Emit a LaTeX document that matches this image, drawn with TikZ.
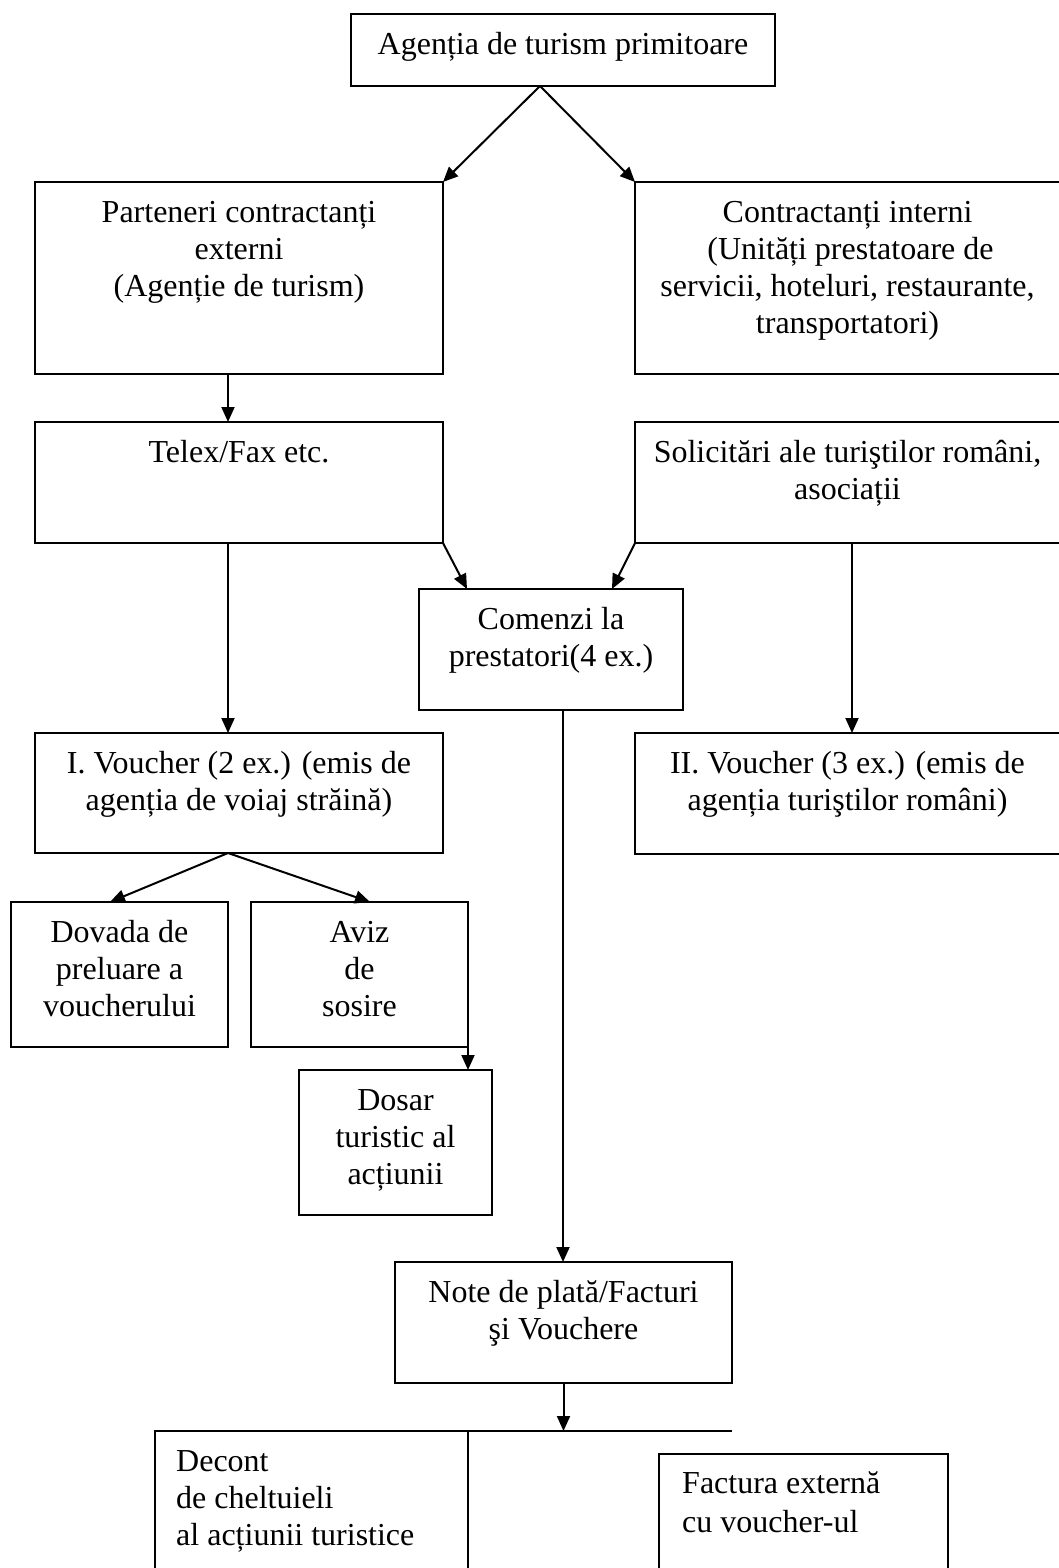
\documentclass[tikz,border=0pt]{standalone}
\usepackage{fontspec}
\setmainfont{Liberation Serif}
\usetikzlibrary{arrows.meta,calc}
\begin{document}
\begin{tikzpicture}[x=1pt,y=-1pt,
  box/.style={draw, line width=1.1pt, rectangle, inner sep=0pt, outer sep=0pt, anchor=north west},
  txt/.style={font=\fontsize{32}{37}\selectfont, align=center, inner sep=0pt, anchor=north},
  ltxt/.style={font=\fontsize{32}{37}\selectfont, align=left, inner sep=0pt, anchor=north west},
  arr/.style={line width=2pt, -{Triangle[length=15pt,width=13pt]}},
  rule/.style={line width=1.1pt},
]
\useasboundingbox (0,0) rectangle (1058,1568);
\fill[white] (0,0) rectangle (1058,1568);

% frames
\node[box, minimum width=424pt, minimum height=72pt]  (top)       at (351,14)   {};
\node[box, minimum width=408pt, minimum height=192pt] (parteneri) at (35,182)   {};
\node[box, minimum width=425pt, minimum height=192pt] (contr)     at (635,182)  {};
\node[box, minimum width=408pt, minimum height=121pt] (telex)     at (35,422)   {};
\node[box, minimum width=425pt, minimum height=121pt] (solic)     at (635,422)  {};
\node[box, minimum width=264pt, minimum height=121pt] (comenzi)   at (419,589)  {};
\node[box, minimum width=408pt, minimum height=120pt] (voucherI)  at (35,733)   {};
\node[box, minimum width=425pt, minimum height=121pt] (voucherII) at (635,733)  {};
\node[box, minimum width=217pt, minimum height=145pt] (dovada)    at (11,902)   {};
\node[box, minimum width=217pt, minimum height=145pt] (aviz)      at (251,902)  {};
\node[box, minimum width=193pt, minimum height=145pt] (dosar)     at (299,1070) {};
\node[box, minimum width=337pt, minimum height=121pt] (note)      at (395,1262) {};
\node[box, minimum width=313pt, minimum height=200pt] (decont)    at (155,1431) {};
\node[box, minimum width=289pt, minimum height=150pt] (factura)   at (659,1454) {};
\coordinate (rule-end) at (732,1431);
\draw[rule] (decont.north east) -- (rule-end);

% texts
\node[txt] (top-t)       at ([yshift=-14.1pt]top.north)       {\strut Agenția de turism primitoare};
\node[txt] (parteneri-t) at ([yshift=-14.1pt]parteneri.north) {\strut Parteneri contractanți\\externi\\(Agenție de turism)};
\node[txt] (contr-t)     at ([yshift=-14.1pt]contr.north)     {\strut Contractanți interni\\\hspace*{6pt}(Unități prestatoare de\\servicii, hoteluri, restaurante,\\transportatori)};
\node[txt] (telex-t)     at ([yshift=-14.1pt]telex.north)     {\strut Telex/Fax etc.};
\node[txt] (solic-t)     at ([yshift=-14.1pt]solic.north)     {\strut Solicitări ale turiştilor români,\\asociații};
\node[txt] (comenzi-t)   at ([yshift=-14.1pt]comenzi.north)   {\strut Comenzi la\\prestatori(4 ex.)};
\node[txt] (voucherI-t)  at ([yshift=-14.1pt]voucherI.north)  {\strut I. Voucher (2 ex.) (emis de\\agenția de voiaj străină)};
\node[txt] (voucherII-t) at ([yshift=-14.1pt]voucherII.north) {\strut II. Voucher (3 ex.) (emis de\\agenția turiştilor români)};
\node[txt] (dovada-t)    at ([yshift=-14.1pt]dovada.north)    {\strut Dovada de\\preluare a\\voucherului};
\node[txt] (aviz-t)      at ([yshift=-14.1pt]aviz.north)      {\strut Aviz\\de\\sosire};
\node[txt] (dosar-t)     at ([yshift=-14.1pt]dosar.north)     {\strut Dosar\\turistic al\\acțiunii};
\node[txt] (note-t)      at ([yshift=-14.1pt]note.north)      {\strut Note de plată/Facturi\\şi Vouchere};
\node[ltxt] (decont-t)   at ([xshift=21pt,yshift=-14.1pt]decont.north west)  {\strut Decont\\de cheltuieli\\al acțiunii turistice};
\node[ltxt, font=\fontsize{32}{39}\selectfont] (factura-t) at ([xshift=23pt,yshift=-11.7pt]factura.north west) {\strut Factura externă\\cu voucher-ul};

% connectors
\draw[arr] ([xshift=-23pt]top.south) -- (parteneri.north east);
\draw[arr] ([xshift=-23pt]top.south) -- (contr.north west);
\draw[arr] ([xshift=-11pt]parteneri.south) -- ([xshift=-11pt]telex.north);
\draw[arr] ([xshift=-11pt]telex.south) -- ([xshift=-11pt]voucherI.north);
\draw[arr] (telex.south east) -- ([xshift=48pt]comenzi.north west);
\draw[arr] (solic.south west) -- ([xshift=-71pt]comenzi.north east);
\draw[arr] ([xshift=4.5pt]solic.south) -- ([xshift=4.5pt]voucherII.north);
\draw[arr] ([xshift=12pt]comenzi.south) -- ([xshift=12pt]comenzi.south |- note.north);
\draw[arr] ([xshift=-11pt]voucherI.south) -- ([xshift=-9.5pt]dovada.north);
\draw[arr] ([xshift=-11pt]voucherI.south) -- ([xshift=10.5pt]aviz.north);
\draw[arr] (aviz.south east) -- (aviz.south east |- dosar.north);
\draw[arr] (note.south) -- (note.south |- rule-end);
\end{tikzpicture}
\end{document}
